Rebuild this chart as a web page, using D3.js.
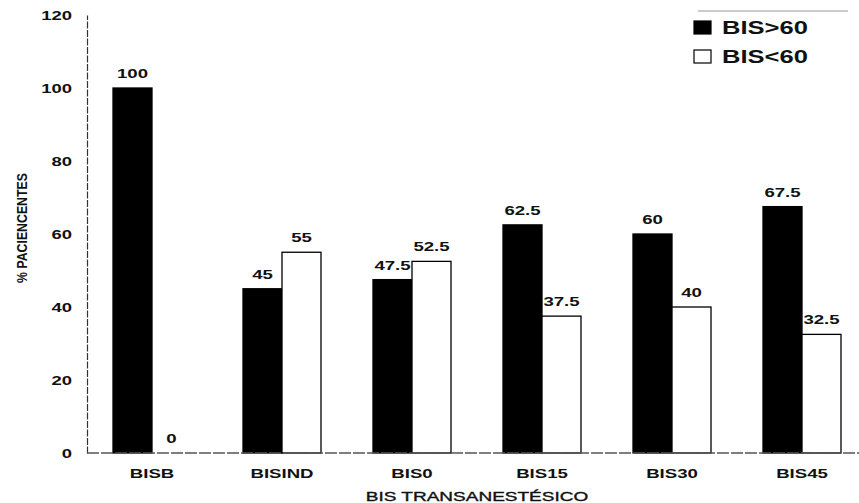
<!DOCTYPE html>
<html>
<head>
<meta charset="utf-8">
<script src="https://cdn.jsdelivr.net/npm/d3@7"></script>
<style>
  html, body { margin: 0; padding: 0; background: #fff; }
  svg { display: block; font-family: "Liberation Sans", Arial, sans-serif; }
</style>
</head>
<body>
<svg id="chart" width="859" height="503"></svg>
<script>
// Categories and series (% pacientes)
const categories = ["BISB", "BISIND", "BIS0", "BIS15", "BIS30", "BIS45"];
const seriesNames = ["BIS>60", "BIS<60"];
const above60 = [100, 45, 47.5, 62.5, 60, 67.5];
const below60 = [0, 55, 52.5, 37.5, 40, 32.5];
const yTicks = [0, 20, 40, 60, 80, 100, 120];

const fills = ["#000", "#fff"];
const WIDE = 1.38; // horizontal stretch of the lettering

const svg = d3.select("#chart");

const x = d3.scaleBand().domain(categories).range([87, 867]).padding(0);
const y = d3.scaleLinear().domain([0, 120]).range([453, 15]);
const barW = 39;
const sub = d3.scaleBand().domain(seriesNames)
  .range([-barW, barW]).padding(0);

const rows = categories.map((c, i) => ({
  cat: c,
  vals: [
    { key: seriesNames[0], v: above60[i], fill: fills[0] },
    { key: seriesNames[1], v: below60[i], fill: fills[1] }
  ]
}));

// Left axis
const yAxis = d3.axisLeft(y).tickValues(yTicks).tickSize(0);
const gy = svg.append("g").attr("transform", "translate(87,0)").call(yAxis);
gy.select(".domain").attr("stroke", "#333").attr("stroke-width", 1.2)
  .attr("stroke-dasharray", "7,1.5");
gy.selectAll("text")
  .attr("font-size", 13).attr("font-weight", "bold")
  .attr("fill", "#111").attr("font-family", "Liberation Sans, Arial, sans-serif")
  .attr("x", -15 / 1.42)
  .attr("transform", "scale(1.42,1)");

// Bars
const groups = svg.append("g").selectAll("g").data(rows).join("g")
  .attr("transform", d => `translate(${x(d.cat) + x.bandwidth() / 2},0)`);

groups.selectAll("rect").data(d => d.vals.filter(v => v.v > 0)).join("rect")
  .attr("x", d => sub(d.key))
  .attr("width", sub.bandwidth())
  .attr("y", d => y(d.v))
  .attr("height", d => y(0) - y(d.v))
  .attr("fill", d => d.fill)
  .attr("stroke", "#000")
  .attr("stroke-width", 1.3);

// Value labels
groups.selectAll("text.val").data(d => d.vals).join("text")
  .attr("class", "val")
  .attr("transform", d =>
    `translate(${sub(d.key) + sub.bandwidth() / 2},${y(d.v) - 10}) scale(${WIDE},1)`)
  .attr("text-anchor", "middle")
  .attr("font-size", 13.5)
  .attr("font-weight", "bold")
  .attr("fill", "#111")
  .text(d => d.v);

// Baseline and category labels
const xAxis = d3.axisBottom(x).tickSize(0).tickPadding(15);
const gx = svg.append("g").attr("transform", `translate(0,${y(0)})`).call(xAxis);
gx.select(".domain").attr("d", `M87,0H859`).attr("stroke", "#555")
  .attr("stroke-width", 1.3).attr("stroke-dasharray", "12,2");
gx.selectAll("text").attr("font-size", 13.5).attr("font-weight", "bold")
  .attr("fill", "#111")
  .attr("font-family", "Liberation Sans, Arial, sans-serif")
  .attr("transform", `scale(${WIDE},1)`);

// Axis titles
svg.append("text")
  .attr("transform", "translate(477,501) scale(1.52,1)")
  .attr("text-anchor", "middle")
  .attr("font-size", 12.5)
  .attr("fill", "#111").attr("stroke", "#111").attr("stroke-width", 0.35)
  .text("BIS TRANSANESTÉSICO");

svg.append("text")
  .attr("transform", "translate(27,228) rotate(-90) scale(0.88,1)")
  .attr("text-anchor", "middle")
  .attr("font-size", 14).attr("font-weight", "bold")
  .attr("fill", "#111")
  .text("% PACIENCENTES");

// Legend
svg.append("line").attr("x1", 698).attr("x2", 848).attr("y1", 11).attr("y2", 11)
  .attr("stroke", "#999").attr("stroke-width", 1);

const legend = svg.append("g").selectAll("g").data(seriesNames).join("g")
  .attr("transform", (d, i) => `translate(694,${21 + i * 29})`);
legend.append("rect")
  .attr("width", 17).attr("height", 13)
  .attr("fill", (d, i) => fills[i])
  .attr("stroke", "#000").attr("stroke-width", 1.2);
legend.append("text")
  .attr("transform", "translate(28,13) scale(1.42,1)")
  .attr("font-size", 18).attr("font-weight", "bold")
  .attr("fill", "#111")
  .text(d => d);
</script>
</body>
</html>
